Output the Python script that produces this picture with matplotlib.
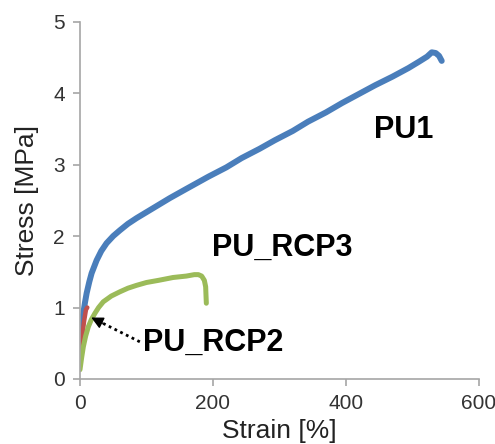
"""Stress-strain curves for PU1, PU_RCP2 and PU_RCP3 (Excel-style look)."""
import matplotlib

matplotlib.use("Agg")
import matplotlib.pyplot as plt

plt.rcParams["font.family"] = ["Liberation Sans", "DejaVu Sans"]

# ------------------------------------------------------------------ data
pu1_strain = [0, 2.5, 5, 7.5, 10, 14, 17.5, 25, 32, 40, 50, 60, 72, 85, 110,
              135, 160, 193, 220, 243, 270, 293, 320, 343, 370, 394, 420,
              444, 470, 494, 510, 522, 529, 535, 540, 544]
pu1_stress = [0.62, 0.8, 0.92, 1.07, 1.2, 1.36, 1.48, 1.66, 1.79, 1.9, 2.0,
              2.08, 2.17, 2.25, 2.39, 2.53, 2.66, 2.83, 2.96, 3.09, 3.22,
              3.34, 3.47, 3.6, 3.73, 3.86, 3.99, 4.11, 4.23, 4.35, 4.44,
              4.51, 4.57, 4.56, 4.52, 4.45]

rcp2_strain = [0, 3, 6, 9, 11]
rcp2_stress = [0.3, 0.55, 0.8, 0.97, 1.0]

rcp3_strain = [0, 2.5, 5, 8.5, 12.5, 17, 22.5, 28, 35, 47, 60, 72, 85, 100,
               118, 140, 160, 172, 178, 183, 187, 189, 189.5, 190]
rcp3_stress = [0.13, 0.3, 0.45, 0.6, 0.73, 0.83, 0.92, 1.0, 1.08, 1.16, 1.22,
               1.27, 1.31, 1.35, 1.38, 1.42, 1.44, 1.46, 1.46, 1.44, 1.38,
               1.29, 1.17, 1.06]

x_ticks = [0, 200, 400, 600]
y_ticks = [0, 1, 2, 3, 4, 5]

# ------------------------------------------------------------------ figure
fig = plt.figure(figsize=(4.95, 4.44), dpi=100)
ax = fig.add_axes([0.1616, 0.1464, 0.806, 0.805])

ax.plot(pu1_strain, pu1_stress, color="#4a7ebb", lw=4.3,
        solid_capstyle="round", solid_joinstyle="round")
ax.plot(rcp2_strain, rcp2_stress, color="#c0504d", lw=3.2,
        solid_capstyle="round")
ax.plot(rcp3_strain, rcp3_stress, color="#9bbb59", lw=3.6,
        solid_capstyle="round", solid_joinstyle="round")

ax.set_xlim(0, 600)
ax.set_ylim(0, 5)
ax.set_xticks(x_ticks)
ax.set_yticks(y_ticks)

for s in ("top", "right"):
    ax.spines[s].set_visible(False)
for s in ("left", "bottom"):
    ax.spines[s].set_color("#a6a6a6")
    ax.spines[s].set_linewidth(1.2)
ax.tick_params(direction="out", length=5, width=1.2, color="#a6a6a6",
               labelsize=15, labelcolor="#333333", pad=6)

ax.set_xlabel("Strain [%]", fontsize=19, color="#222222", labelpad=4)
ax.set_ylabel("Stress [MPa]", fontsize=19, color="#222222", labelpad=10)

lab = dict(fontsize=22, fontweight="bold", color="black", va="center")
ax.text(442, 3.48, "PU1", ha="left", **lab)
ax.text(198, 1.83, "PU_RCP3", ha="left", **lab)
ax.text(95, 0.5, "PU_RCP2", ha="left", **lab)

# dotted leader with a solid head
ax.plot([90, 30], [0.52, 0.80], color="black", lw=2, linestyle=(0, (1, 1.3)))
ax.annotate("", xy=(17, 0.86), xytext=(34, 0.78),
            arrowprops=dict(arrowstyle="-|>", color="black", lw=1,
                            mutation_scale=18, shrinkA=0, shrinkB=0))

fig.savefig("out.png", dpi=100)
